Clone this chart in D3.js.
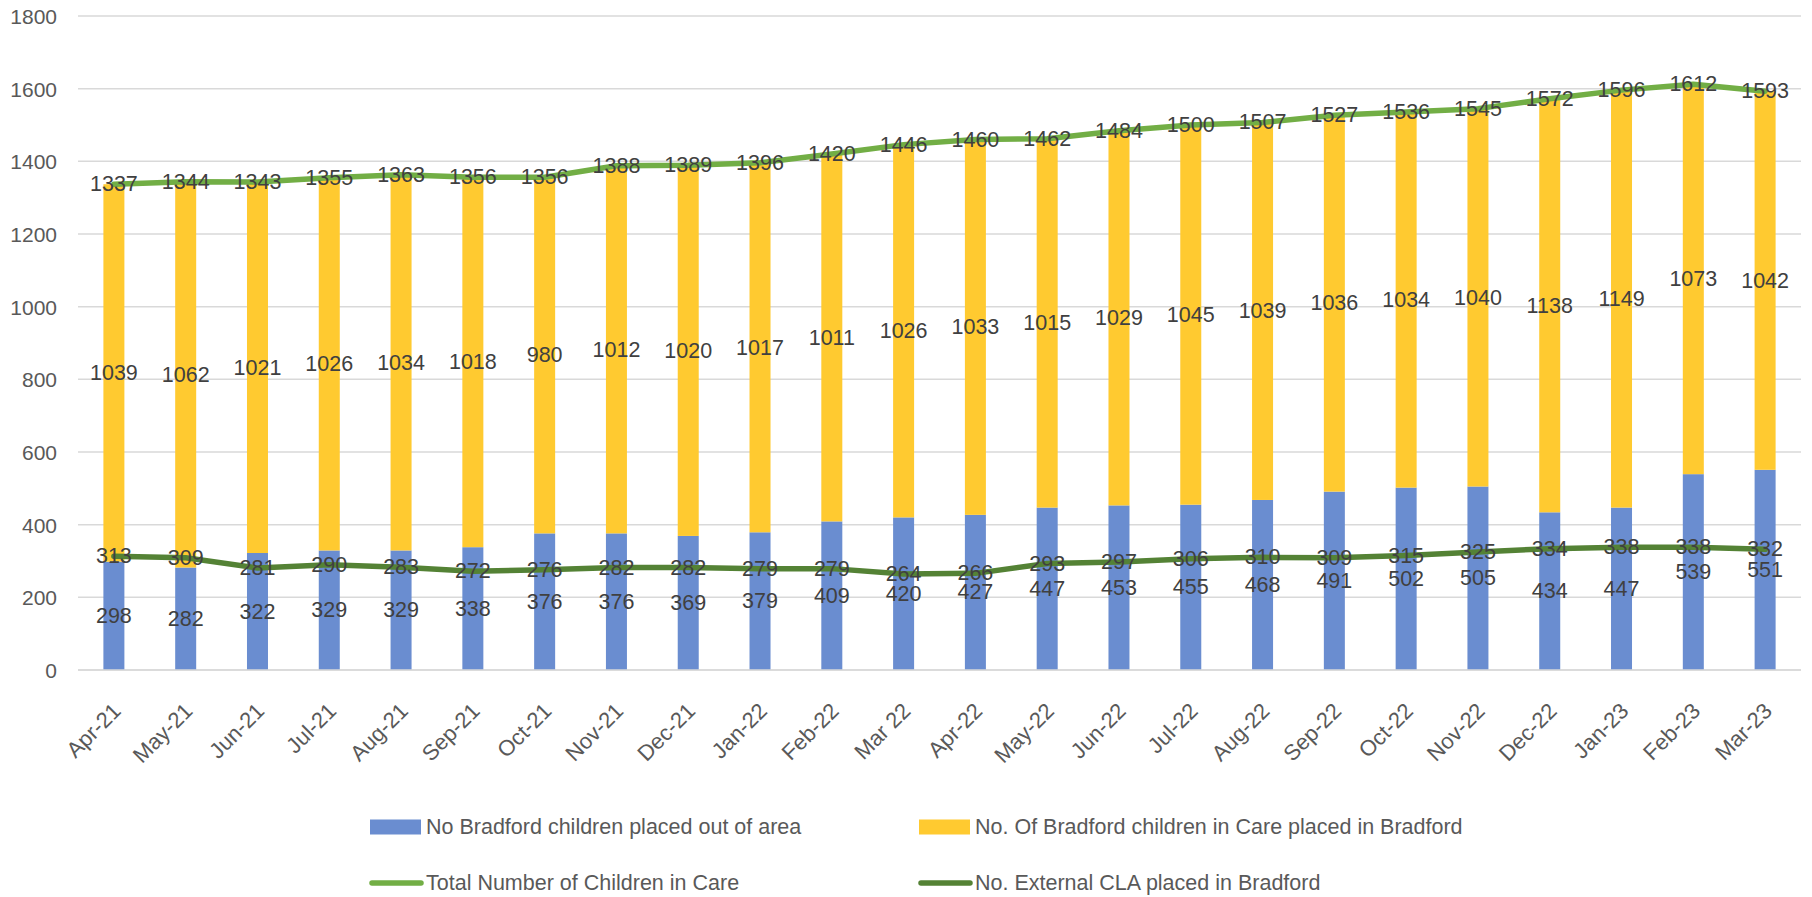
<!DOCTYPE html>
<html>
<head>
<meta charset="utf-8">
<script src="https://cdn.jsdelivr.net/npm/d3@7"></script>
<style>
  html, body { margin: 0; padding: 0; background: #ffffff; }
  svg { display: block; }
  text { font-family: "Liberation Sans", Arial, sans-serif; }
</style>
</head>
<body>
<svg id="chart" width="1812" height="897"></svg>
<script>
const months = ["Apr-21","May-21","Jun-21","Jul-21","Aug-21","Sep-21","Oct-21","Nov-21","Dec-21","Jan-22","Feb-22","Mar 22","Apr-22","May-22","Jun-22","Jul-22","Aug-22","Sep-22","Oct-22","Nov-22","Dec-22","Jan-23","Feb-23","Mar-23"];
const outOfArea = [298,282,322,329,329,338,376,376,369,379,409,420,427,447,453,455,468,491,502,505,434,447,539,551];
const inBradford = [1039,1062,1021,1026,1034,1018,980,1012,1020,1017,1011,1026,1033,1015,1029,1045,1039,1036,1034,1040,1138,1149,1073,1042];
const totalInCare = [1337,1344,1343,1355,1363,1356,1356,1388,1389,1396,1420,1446,1460,1462,1484,1500,1507,1527,1536,1545,1572,1596,1612,1593];
const externalCLA = [313,309,281,290,283,272,276,282,282,279,279,264,266,293,297,306,310,309,315,325,334,338,338,332];
const yTicks = [0,200,400,600,800,1000,1200,1400,1600,1800];
const seriesNames = ["No Bradford children placed out of area","No. Of Bradford children in Care placed in Bradford","Total Number of Children in Care","No. External CLA placed in Bradford"];

const colBlue = "#6a8dd0", colYellow = "#ffca30", colLight = "#72ae45", colDark = "#548235";
const svg = d3.select("#chart");

const x = d3.scaleBand().domain(months).range([78, 1801]).paddingInner(0.7075).paddingOuter(0.7075/2);
const y = d3.scaleLinear().domain([0, 1800]).range([670, 16]);
const cx = m => x(m) + x.bandwidth()/2;

// gridlines
svg.append("g").selectAll("line").data(yTicks).join("line")
  .attr("x1", 78).attr("x2", 1801)
  .attr("y1", d => y(d)).attr("y2", d => y(d))
  .attr("stroke", "#d9d9d9").attr("stroke-width", 1.5);

// y axis labels
const yAxis = d3.axisLeft(y).tickValues(yTicks).tickFormat(d3.format("d")).tickSize(0).tickPadding(0);
const yg = svg.append("g").attr("transform", "translate(57,0)").call(yAxis);
yg.select(".domain").remove();
yg.selectAll("text").attr("font-size", 21).attr("fill", "#595959")
  .attr("font-family", "Liberation Sans, Arial, sans-serif").attr("dy", "0.36em");

// stacked bars
const rows = months.map((m, i) => ({m, a: outOfArea[i], b: inBradford[i]}));
const stack = d3.stack().keys(["a","b"])(rows);
const colors = [colBlue, colYellow];
stack.forEach((layer, k) => {
  svg.append("g").selectAll("rect").data(layer).join("rect")
    .attr("x", d => x(d.data.m)).attr("width", x.bandwidth())
    .attr("y", d => y(d[1])).attr("height", d => y(d[0]) - y(d[1]))
    .attr("fill", colors[k]);
});

// x axis
const xAxis = d3.axisBottom(x).tickSize(0).tickPadding(0);
const xg = svg.append("g").attr("transform", "translate(0,670)").call(xAxis);
xg.select(".domain").attr("stroke", "#d9d9d9").attr("stroke-width", 1.5).attr("d", "M78,0H1801");
xg.selectAll("text")
  .attr("font-size", 22).attr("fill", "#595959")
  .attr("font-family", "Liberation Sans, Arial, sans-serif")
  .attr("text-anchor", "end")
  .attr("dy", null).attr("y", null)
  .attr("transform", "translate(3,37) rotate(-45)")
  .attr("dominant-baseline", "central");

// lines
const lineGen = arr => d3.line().x((d, i) => cx(months[i])).y(d => y(d))(arr);
svg.append("path").attr("d", lineGen(totalInCare)).attr("fill", "none")
  .attr("stroke", colLight).attr("stroke-width", 5.5).attr("stroke-linejoin", "round").attr("stroke-linecap", "round");
svg.append("path").attr("d", lineGen(externalCLA)).attr("fill", "none")
  .attr("stroke", colDark).attr("stroke-width", 5.5).attr("stroke-linejoin", "round").attr("stroke-linecap", "round");

// data labels
function labels(vals, yfn) {
  svg.append("g").selectAll("text").data(vals).join("text")
    .attr("x", (d, i) => cx(months[i]))
    .attr("y", (d, i) => yfn(d, i))
    .attr("text-anchor", "middle").attr("dominant-baseline", "central")
    .attr("font-size", 21.5).attr("fill", "#404040")
    .text(d => d);
}
labels(outOfArea, (d, i) => y(d / 2));
labels(inBradford, (d, i) => y(outOfArea[i] + d / 2));
labels(totalInCare, d => y(d));
labels(externalCLA, d => y(d));

// legend
const legend = [
  {name: seriesNames[0], type: "rect", color: colBlue, x: 370, y: 827},
  {name: seriesNames[1], type: "rect", color: colYellow, x: 919, y: 827},
  {name: seriesNames[2], type: "line", color: colLight, x: 370, y: 883},
  {name: seriesNames[3], type: "line", color: colDark, x: 919, y: 883}
];
const lg = svg.append("g").selectAll("g").data(legend).join("g")
  .attr("transform", d => `translate(${d.x},${d.y})`);
lg.filter(d => d.type === "rect").append("rect")
  .attr("x", 0).attr("y", -7.5).attr("width", 51).attr("height", 15).attr("fill", d => d.color);
lg.filter(d => d.type === "line").append("line")
  .attr("x1", 2).attr("x2", 51).attr("y1", 0).attr("y2", 0)
  .attr("stroke", d => d.color).attr("stroke-width", 5.5).attr("stroke-linecap", "round");
lg.append("text").attr("x", 56).attr("y", 0).attr("dominant-baseline", "central")
  .attr("font-size", 21.5).attr("fill", "#595959").text(d => d.name);
</script>
</body>
</html>
